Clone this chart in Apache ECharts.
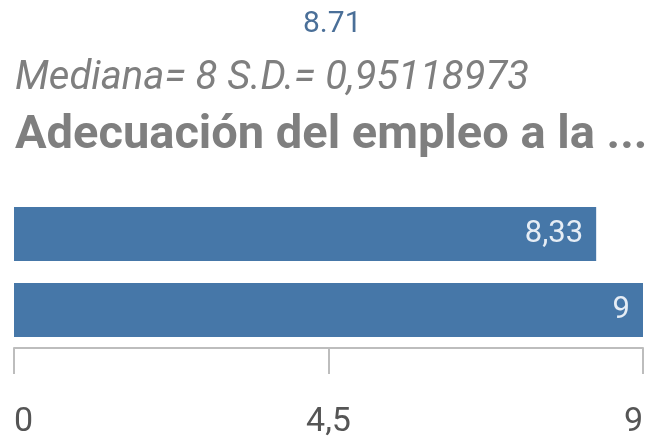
<!DOCTYPE html>
<html>
<head>
<meta charset="utf-8">
<script src="https://cdn.jsdelivr.net/npm/echarts@6/dist/echarts.min.js"></script>
<style>
html,body{margin:0;padding:0;background:#fff;}
#mybox{width:646px;height:440px;}
</style>
</head>
<body>
<div id="mybox"></div>
<script>
// datos
var categorias = ['Grupo 1', 'Grupo 2'];
var valores = [8.33, 9];
var ticks = [0, 4.5, 9];
var media = '8.71';
var subtitulo = 'Mediana= 8 S.D.= 0,95118973';
var titulo = 'Adecuación del empleo a la ...';

var mycharts = echarts.init(document.getElementById('mybox'));

var optionObj = {
    animation: false,
    title: [
        {
            text: media,
            left: 298, top: 4,
            textStyle: { color: '#4a6f98', fontSize: 30, fontWeight: 'normal', fontFamily: 'Roboto' }
        },
        {
            text: subtitulo,
            left: 10, top: 54,
            textStyle: { color: '#7f7f7f', fontSize: 40, fontStyle: 'italic', fontWeight: 'normal', fontFamily: 'Roboto' }
        },
        {
            text: titulo,
            left: 10, top: 108,
            textStyle: { color: '#7f7f7f', fontSize: 47, fontWeight: 'bold', fontFamily: 'Roboto' }
        }
    ],
    grid: { left: 14, right: 3, top: 196, bottom: 92 },
    xAxis: {
        type: 'value',
        min: 0, max: 9, interval: 4.5,
        axisLine: { show: true, lineStyle: { color: '#bdbdbd', width: 2 } },
        axisTick: { show: true, length: 26, lineStyle: { color: '#bdbdbd', width: 2 } },
        splitLine: { show: false },
        axisLabel: {
            margin: 57,
            color: '#555555',
            fontSize: 34,
            fontFamily: 'Roboto',
            alignMinLabel: 'left',
            alignMaxLabel: 'right',
            formatter: function (v) { return String(v).replace('.', ','); }
        }
    },
    yAxis: {
        type: 'category',
        inverse: true,
        data: categorias,
        show: false
    },
    series: [
        {
            type: 'bar',
            data: valores,
            barWidth: 54,
            itemStyle: { color: '#4677a8' },
            label: {
                show: true,
                position: 'insideRight',
                distance: 13,
                color: '#e6edf5',
                fontSize: 31,
                fontFamily: 'Roboto',
                formatter: function (p) { return String(p.value).replace('.', ','); }
            }
        }
    ]
};

mycharts.setOption(optionObj);
</script>
</body>
</html>
